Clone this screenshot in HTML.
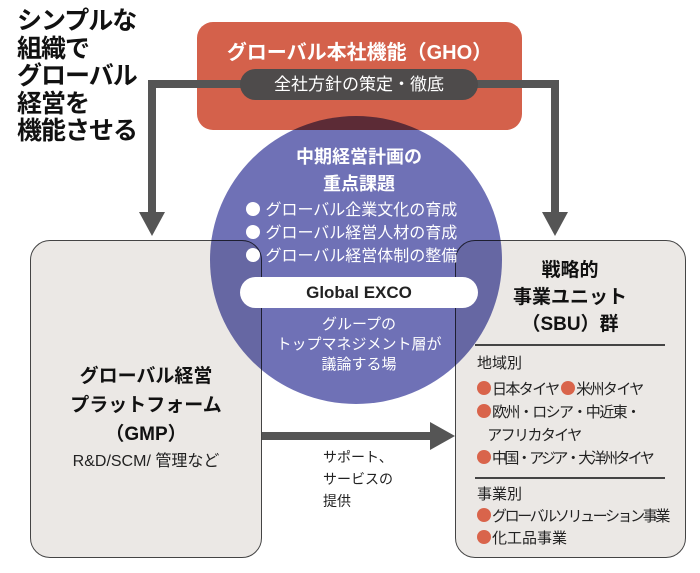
<!DOCTYPE html>
<html><head><meta charset="utf-8"><style>
body{margin:0;width:700px;height:573px;background:#fff;position:relative;overflow:hidden;font-family:"Liberation Sans","Noto Sans CJK JP",sans-serif;}
.a{position:absolute;}
.title{left:17px;top:8px;font-size:25px;font-weight:bold;line-height:27.5px;color:#111;letter-spacing:-1px;}
.box{border:1.5px solid #444;background:#ebe8e5;border-radius:20px;}
.t{position:absolute;white-space:nowrap;}
.dot{display:inline-block;width:14px;height:14px;border-radius:50%;background:#d9644b;vertical-align:-1px;margin-right:1px;}
.c{letter-spacing:-1.6px;}
</style></head><body>
<div class="a title">シンプルな<br>組織で<br>グローバル<br>経営を<br>機能させる</div>
<div class="a box" style="left:30px;top:240px;width:230px;height:316px;"></div>
<div class="a box" style="left:455px;top:240px;width:229px;height:316px;"></div>
<div class="a" style="left:197px;top:22px;width:325px;height:108px;background:#d4614b;border-radius:16px;"></div>
<svg class="a" style="left:0;top:0" width="700" height="573">
<path d="M245 84 H152 V215 M470 84 H555 V215" stroke="#555" stroke-width="8" fill="none"/>
<polygon points="139,212 165,212 152,236" fill="#555"/>
<polygon points="542,212 568,212 555,236" fill="#555"/>
<rect x="262" y="432" width="170" height="8" fill="#555"/>
<polygon points="430,422 430,450 455,436" fill="#555"/>
</svg>
<div class="a" style="left:210px;top:116px;width:292px;height:288px;border-radius:50%;background:#6f71b6;mix-blend-mode:multiply;"></div>
<div class="a" style="left:240px;top:69px;width:238px;height:31px;background:#4e4b4b;border-radius:16px;color:#fff;font-size:17px;text-align:center;line-height:31px;">全社方針の策定・徹底</div>
<div class="t" style="left:197px;width:325px;top:36px;text-align:center;color:#fff;font-size:20px;font-weight:bold;">グローバル本社機能（GHO）</div>
<div class="t" style="left:240px;width:238px;top:144px;text-align:center;color:#fff;font-size:18px;font-weight:bold;line-height:27px;">中期経営計画の<br>重点課題</div>
<div class="t" style="left:246px;top:199px;color:#fff;font-size:16px;line-height:23px;">
<span class="dot" style="background:#fff"></span> グローバル企業文化の育成<br><span class="dot" style="background:#fff"></span> グローバル経営人材の育成<br><span class="dot" style="background:#fff"></span> グローバル経営体制の整備</div>
<div class="a" style="left:240px;top:277px;width:238px;height:31px;background:#fff;border-radius:16px;text-align:center;line-height:31px;font-size:17px;font-weight:bold;color:#222;">Global EXCO</div>
<div class="t" style="left:240px;width:238px;top:315px;text-align:center;color:#fff;font-size:15px;line-height:20px;">グループの<br>トップマネジメント層が<br>議論する場</div>
<div class="t" style="left:30px;width:232px;top:362px;text-align:center;font-size:19px;font-weight:bold;line-height:29px;color:#111;">グローバル経営<br>プラットフォーム<br>（GMP）</div>
<div class="t" style="left:30px;width:232px;top:447px;text-align:center;font-size:16px;color:#222;">R&amp;D/SCM/ 管理など</div>
<div class="t" style="left:323px;top:446px;font-size:14px;line-height:22px;color:#222;">サポート、<br>サービスの<br>提供</div>
<div class="t" style="left:455px;width:230px;top:257px;text-align:center;font-size:19px;font-weight:bold;line-height:27px;color:#111;">戦略的<br>事業ユニット<br>（SBU）群</div>
<div class="a" style="left:475px;top:344px;width:190px;height:2px;background:#444;"></div>
<div class="a" style="left:475px;top:477px;width:190px;height:2px;background:#444;"></div>
<div class="t" style="left:477px;top:352px;font-size:15px;line-height:23px;color:#222;">地域別</div>
<div class="t" style="left:477px;top:378px;font-size:15px;line-height:23px;color:#222;"><span class="c"><span class="dot"></span>日本タイヤ <span class="dot"></span>米州タイヤ</span><br><span class="c"><span class="dot"></span>欧州・ロシア・中近東・</span><br><span class="c">&nbsp;&nbsp;&nbsp;&nbsp;アフリカタイヤ</span><br><span style="letter-spacing:-2.6px"><span class="dot"></span>中国・アジア・大洋州タイヤ</span></div>
<div class="t" style="left:477px;top:484px;font-size:15px;line-height:22px;color:#222;">事業別<br><span style="letter-spacing:-2.4px"><span class="dot"></span>グローバルソリューション事業</span><br><span class="dot"></span>化工品事業</div>
</body></html>
